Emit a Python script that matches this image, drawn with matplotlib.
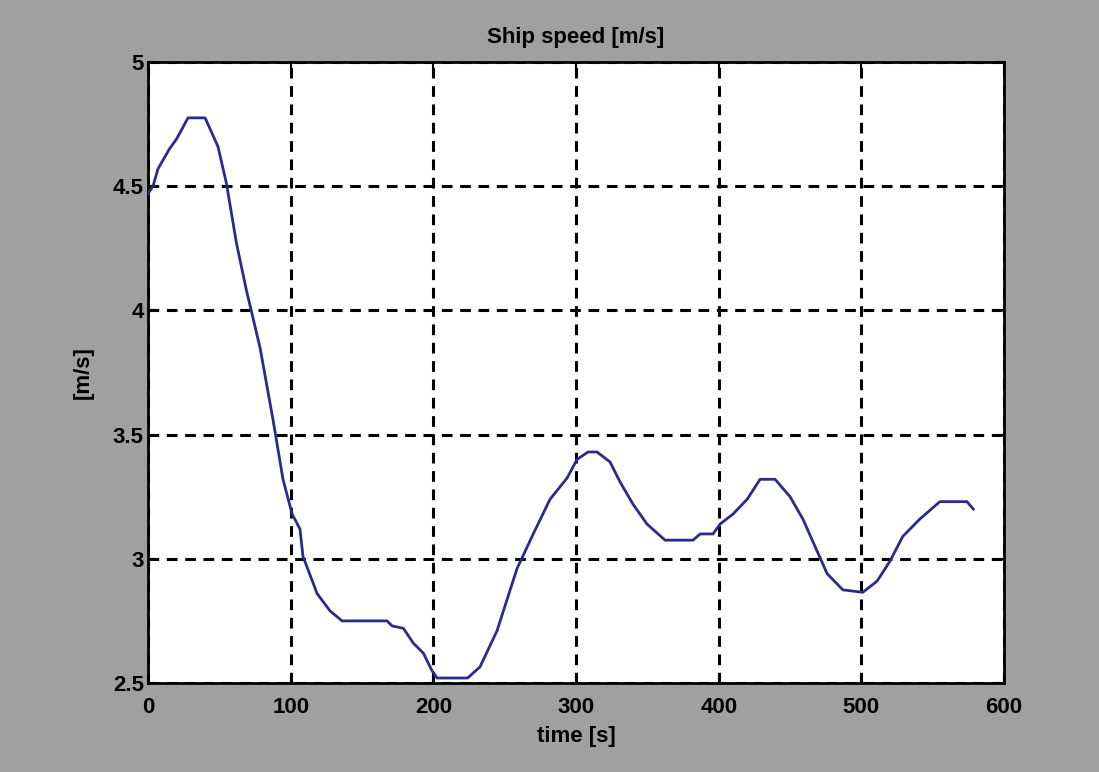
import matplotlib
matplotlib.use("Agg")
import matplotlib.pyplot as plt

# data
time_s = [0, 3.5, 7, 15, 20, 28, 40, 49, 55, 62, 69, 78.5, 87.6, 94.6, 101, 106.5, 108.6,
          118.5, 127.6, 136, 167.5, 171, 179, 186, 193, 199, 202.6, 224, 232.7, 244.6,
          258.6, 270, 281.8, 293.7, 300.7, 308.4, 314.7, 323.8, 330.8, 339.9, 349.7,
          362.4, 382, 387, 396, 401, 410, 420, 429, 439.5, 450, 459, 467.5, 476, 487,
          501, 511, 520, 529, 541, 555, 574, 578.5]
speed = [4.47, 4.50, 4.57, 4.65, 4.69, 4.775, 4.775, 4.66, 4.51, 4.27, 4.08, 3.85, 3.56,
         3.32, 3.18, 3.12, 3.01, 2.86, 2.79, 2.75, 2.75, 2.73, 2.72, 2.66, 2.62, 2.55,
         2.52, 2.52, 2.565, 2.71, 2.96, 3.10, 3.24, 3.325, 3.40, 3.43, 3.43, 3.39, 3.31,
         3.22, 3.14, 3.075, 3.075, 3.10, 3.10, 3.14, 3.18, 3.24, 3.32, 3.32, 3.25, 3.16,
         3.05, 2.94, 2.875, 2.865, 2.91, 2.99, 3.09, 3.16, 3.23, 3.23, 3.20]
xticks = [0, 100, 200, 300, 400, 500, 600]
yticks = [2.5, 3, 3.5, 4, 4.5, 5]
ytick_labels = ["2.5", "3", "3.5", "4", "4.5", "5"]

plt.rcParams['font.family'] = ['Liberation Sans', 'DejaVu Sans']

fig = plt.figure(figsize=(10.99, 7.72), dpi=100, facecolor='#a0a0a0')
ax = fig.add_axes([0.1347, 0.1153, 0.7789, 0.8044])
ax.set_facecolor('white')

ax.plot(time_s, speed, color='#2b2b8c', linewidth=2.0, zorder=3)

ax.set_xlim(0, 600)
ax.set_ylim(2.5, 5)
ax.set_xticks(xticks)
ax.set_yticks(yticks)
ax.set_yticklabels(ytick_labels)
ax.grid(True, color='black', linestyle=(0, (3.5, 2.5)), linewidth=2.2)
ax.tick_params(axis='both', direction='in', length=6, width=1.5, top=True, right=True,
               labelsize=16)
ax.tick_params(axis='x', pad=10)
ax.tick_params(axis='y', pad=3)
for lab in ax.get_xticklabels() + ax.get_yticklabels():
    lab.set_fontweight('bold')
for s in ax.spines.values():
    s.set_linewidth(2)
    s.set_color('black')

ax.set_title('Ship speed [m/s]', fontsize=16, fontweight='bold', pad=14)
ax.set_xlabel('time [s]', fontsize=16, fontweight='bold', labelpad=6)
ax.set_ylabel('[m/s]', fontsize=16, fontweight='bold', labelpad=14)

fig.savefig('out.png', dpi=100, facecolor=fig.get_facecolor())
